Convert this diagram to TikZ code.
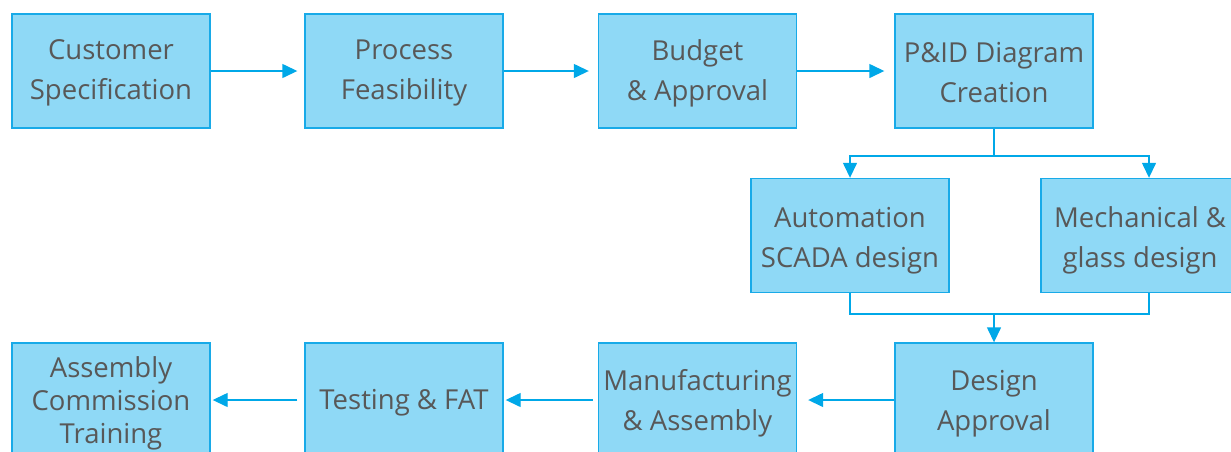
\documentclass[tikz,border=0pt]{standalone}
\usepackage{fontspec}
\setmainfont{Open Sans}
\usetikzlibrary{positioning,arrows.meta}
\definecolor{flowFill}{RGB}{143,217,246}
\definecolor{flowLine}{RGB}{24,170,232}
\definecolor{flowArrow}{RGB}{0,168,232}
\definecolor{flowText}{RGB}{88,88,88}
% lower a text line without changing the node size
\newcommand{\dropline}[2][3pt]{\raisebox{-#1}[\height][\depth]{#2}}

\begin{document}
\begin{tikzpicture}[x=1pt, y=-1pt,
    stepbox/.style={draw=flowLine, fill=flowFill, line width=1.4pt,
      minimum width=198pt, minimum height=114pt, inner sep=0pt,
      align=center, text=flowText, font=\fontsize{27.5}{40}\selectfont},
    flow/.style={draw=flowArrow, line width=1.4pt,
      -{Triangle[length=15pt, width=14pt]}},
    link/.style={draw=flowArrow, line width=1.4pt}]
  \useasboundingbox (0,0) rectangle (1231,451);
  \clip (0,0) rectangle (1231,451);

  % first row
  \node[stepbox] (cust) at (111,71) {\dropline[2pt]{Customer}\\\dropline[2pt]{Specification}};
  \node[stepbox] (feas) at (404,71) {\dropline[2pt]{Process}\\\dropline[2pt]{Feasibility}};
  \node[stepbox] (budg) at (697.5,71) {\dropline[2pt]{Budget}\\\dropline[2pt]{\& Approval}};
  \node[stepbox] (pid) at (994,71) {\dropline[2pt]{P\&ID Diagram}\\\dropline[2pt]{Creation}};

  % design branches
  \node[stepbox] (auto) at (850,235.5) {\dropline[5pt]{Automation}\\\dropline[5pt]{SCADA design}};
  \node[stepbox] (mech) at (1140,235.5) {\dropline[5pt]{Mechanical \&}\\\dropline[5pt]{glass design}};

  % last row
  \node[stepbox] (apprv) at (994,400) {\dropline[4pt]{Design}\\\dropline[4pt]{Approval}};
  \node[stepbox] (manu) at (697.5,400) {\dropline{Manufacturing}\\\dropline{\& Assembly}};
  \node[stepbox] (test) at (404,400) {\dropline{Testing \& FAT}};
  \node[stepbox, font=\fontsize{27.5}{33}\selectfont] (assy) at (111,400) {\dropline{Assembly}\\\dropline{Commission}\\\dropline{Training}};

  \coordinate (split) at (994,156);
  \coordinate (join) at (994,314);

  \draw[flow, shorten >=7pt] (cust.east) -- (feas.west);
  \draw[flow, shorten >=9pt] (feas.east) -- (budg.west);
  \draw[flow, shorten >=10pt] (budg.east) -- (pid.west);

  \draw[link] (pid.south) -- (split);
  \draw[flow] (split) -| (auto.north);
  \draw[flow] (split) -| ([xshift=9pt]mech.north);
  \draw[link] (auto.south) |- (join) -| ([xshift=9pt]mech.south);
  \draw[flow] (join) -- (apprv.north);

  \draw[flow, shorten >=11pt] (apprv.west) -- (manu.east);
  \draw[flow, shorten <=5pt, shorten >=2pt] (manu.west) -- (test.east);
  \draw[flow, shorten <=7pt, shorten >=2pt] (test.west) -- (assy.east);
\end{tikzpicture}
\end{document}
